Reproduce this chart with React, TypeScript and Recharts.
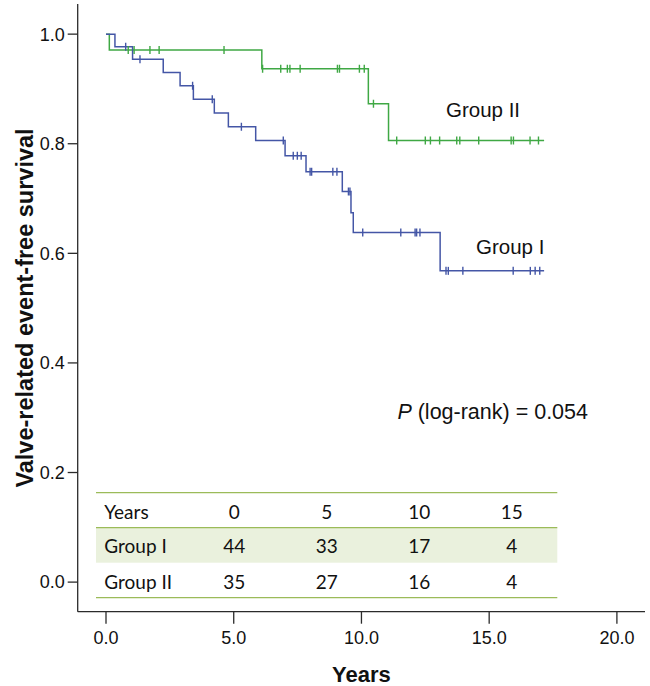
import { ComposedChart, Line, Scatter, XAxis, YAxis } from 'recharts'

// Kaplan-Meier steps (years, survival)
const groupITimes = [0, 0.35, 1.04, 2.24, 2.9, 3.42, 4.24, 4.79, 5.86, 7.01, 7.83, 9.25, 9.59, 9.68, 13.08, 17.15]
const groupISurv = [1.0, 0.977, 0.954, 0.93, 0.906, 0.881, 0.856, 0.831, 0.806, 0.778, 0.749, 0.713, 0.674, 0.638, 0.568, 0.568]
const groupICensored = [0.77, 1.33, 3.39, 4.16, 5.3, 6.94, 7.33, 7.49, 7.64, 7.99, 8.05, 8.88, 9.04, 9.49, 9.55, 10.05, 11.54, 12.1, 12.16, 12.29, 13.31, 13.4, 13.97, 15.94, 16.61, 16.8, 16.98]

const groupIITimes = [0, 0.13, 6.1, 10.27, 11.06, 17.15]
const groupIISurv = [1.0, 0.971, 0.937, 0.873, 0.806, 0.806]
const groupIICensored = [0.87, 1.1, 1.72, 2.08, 4.62, 6.13, 6.84, 7.1, 7.2, 7.6, 9.06, 9.14, 9.92, 10.11, 10.47, 11.38, 12.5, 12.7, 13.06, 13.73, 13.85, 14.59, 15.86, 15.95, 16.6, 16.93]

const xTicks = [0, 5, 10, 15, 20]
const yTicks = [0, 0.2, 0.4, 0.6, 0.8, 1.0]

// numbers at risk
const riskYears = ['0', '5', '10', '15']
const riskGroupI = [44, 33, 17, 4]
const riskGroupII = [35, 27, 16, 4]

const BLUE = '#4456a6'
const GREEN = '#3fa844'
const AXIS = '#2b2b2b'
const TABLE_LINE = '#9bbb59'
const TABLE_BAND = '#eaf1dd'
const SANS = '"Liberation Sans", Arial, sans-serif'

const steps = (times: number[], surv: number[]) => times.map((t, i) => ({ t, v: surv[i] }))

const survAt = (times: number[], surv: number[], t: number) => {
  let v = surv[0]
  times.forEach((tt, i) => { if (tt <= t) v = surv[i] })
  return v
}

const censorMarks = (cens: number[], times: number[], surv: number[]) =>
  cens.map(t => ({ t, v: survAt(times, surv, t) }))

const tickMark = (color: string) => (props: any) => {
  const { cx, cy } = props
  return <line x1={cx} x2={cx} y1={cy - 4} y2={cy + 4} stroke={color} strokeWidth={1.4} />
}

const tickStyle = { fontSize: 18, fill: '#111', fontFamily: SANS }

export default function App() {
  const colX = [234.3, 326.7, 419.3, 511.7]
  const tableFont = 'Lato, "Noto Sans", sans-serif'
  return (
    <div style={{ position: 'relative', width: 650, height: 686, background: '#fff' }}>
      <style>{'body{margin:0}'}</style>
      <ComposedChart width={650} height={686} margin={{ top: 4, right: 5, bottom: 0, left: 7.7 }}>
        <XAxis
          dataKey="t" type="number" domain={[-1.108, 21.1]} ticks={xTicks} allowDataOverflow
          tickFormatter={(v: number) => v.toFixed(1)} tick={tickStyle}
          tickSize={12} tickMargin={7.5} height={74.3}
          stroke={AXIS} strokeWidth={1.3}
          label={{ value: 'Years', position: 'insideBottom', offset: 4, style: { fontSize: 22, fontWeight: 700, fill: '#111', fontFamily: SANS } }}
        />
        <XAxis xAxisId="top" orientation="top" type="number" domain={[-1.108, 21.1]} height={0} tick={false} tickLine={false} stroke={AXIS} strokeWidth={1.3} />
        <YAxis
          type="number" domain={[-0.054, 1.055]} ticks={yTicks} allowDataOverflow
          tickFormatter={(v: number) => v.toFixed(1)} tick={tickStyle}
          tickSize={10} tickMargin={3} width={70}
          stroke={AXIS} strokeWidth={1.3}
        />
        <YAxis yAxisId="right" orientation="right" type="number" domain={[-0.054, 1.055]} width={0} tick={false} tickLine={false} stroke={AXIS} strokeWidth={1.3} />
        <Line data={steps(groupIITimes, groupIISurv)} dataKey="v" type="stepAfter" stroke={GREEN} strokeWidth={1.5} dot={false} isAnimationActive={false} />
        <Line data={steps(groupITimes, groupISurv)} dataKey="v" type="stepAfter" stroke={BLUE} strokeWidth={1.5} dot={false} isAnimationActive={false} />
        <Scatter data={censorMarks(groupIICensored, groupIITimes, groupIISurv)} dataKey="v" shape={tickMark(GREEN)} isAnimationActive={false} />
        <Scatter data={censorMarks(groupICensored, groupITimes, groupISurv)} dataKey="v" shape={tickMark(BLUE)} isAnimationActive={false} />
      </ComposedChart>

      <svg width={650} height={686} style={{ position: 'absolute', left: 0, top: 0, pointerEvents: 'none' }}>
        <text transform="translate(25,308) rotate(-90)" textAnchor="middle" dominantBaseline="central"
          style={{ fontSize: 23.5, fontWeight: 700, fill: '#111', fontFamily: SANS }}>
          Valve-related event-free survival
        </text>
        <g style={{ fontSize: 20.5, fill: '#111', fontFamily: SANS }}>
          <text x={446} y={116.5}>Group II</text>
          <text x={476} y={254}>Group I</text>
          <text x={588} y={419} textAnchor="end" style={{ fontSize: 21.5 }}>
            <tspan fontStyle="italic">P</tspan> (log-rank) = 0.054
          </text>
        </g>

        <rect x={96} y={527.7} width={461.3} height={35} fill={TABLE_BAND} />
        <line x1={96} x2={557.3} y1={492.7} y2={492.7} stroke={TABLE_LINE} strokeWidth={1.3} />
        <line x1={96} x2={557.3} y1={527.7} y2={527.7} stroke={TABLE_LINE} strokeWidth={1.3} />
        <line x1={96} x2={557.3} y1={597.7} y2={597.7} stroke={TABLE_LINE} strokeWidth={1.3} />
        <g style={{ fontSize: 19, fill: '#111', fontFamily: tableFont }} dominantBaseline="central">
          <text x={104.3} y={511}>Years</text>
          {riskYears.map((y, i) => <text key={'h' + i} x={colX[i]} y={511} textAnchor="middle">{y}</text>)}
          <text x={104.3} y={545.5}>Group I</text>
          {riskGroupI.map((n, i) => <text key={'a' + i} x={colX[i]} y={545.5} textAnchor="middle">{n}</text>)}
          <text x={104.3} y={581}>Group II</text>
          {riskGroupII.map((n, i) => <text key={'b' + i} x={colX[i]} y={581} textAnchor="middle">{n}</text>)}
        </g>
      </svg>
    </div>
  )
}
